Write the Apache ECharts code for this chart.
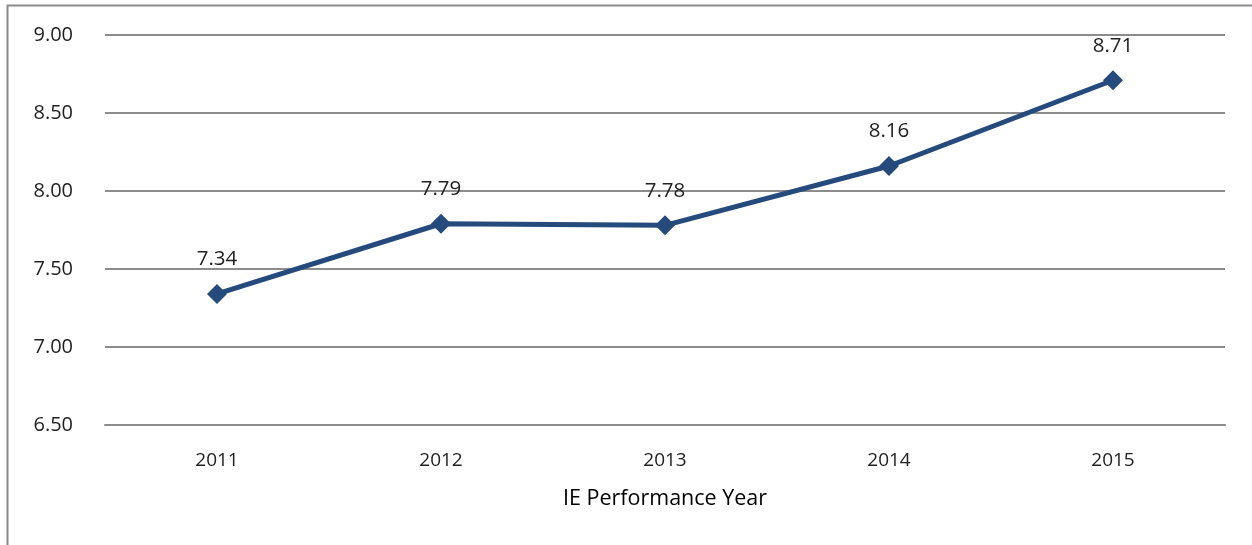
<!DOCTYPE html>
<html>
<head>
<meta charset="utf-8">
<script src="https://cdn.jsdelivr.net/npm/echarts@6/dist/echarts.min.js"></script>
<style>
html,body{margin:0;padding:0;background:#fff;}
#c{width:1252px;height:545px;}
</style>
</head>
<body>
<div id="c"></div>
<script>
var categories = ['2011', '2012', '2013', '2014', '2015'];
var values = [7.34, 7.79, 7.78, 8.16, 8.71];
var xAxisTitle = 'IE Performance Year';

var chart = echarts.init(document.getElementById('c'));
var font = '"Open Sans", "Noto Sans", sans-serif';
chart.setOption({
  animation: false,
  backgroundColor: '#fff',
  graphic: [{
    type: 'rect',
    shape: {x: 7.5, y: 5.5, width: 1400, height: 700},
    style: {fill: 'none', stroke: '#8a8a8a', lineWidth: 2},
    silent: true
  }],
  grid: {left: 105, right: 27, top: 35, bottom: 120},
  xAxis: {
    type: 'category',
    data: categories,
    boundaryGap: true,
    name: xAxisTitle,
    nameLocation: 'middle',
    nameGap: 63,
    nameTextStyle: {fontFamily: font, fontSize: 21.5, color: '#000'},
    axisLine: {show: true, lineStyle: {color: '#8c8c8c', width: 2}},
    axisTick: {show: false},
    axisLabel: {fontFamily: font, fontSize: 19, color: '#222', margin: 26}
  },
  yAxis: {
    type: 'value',
    min: 6.5,
    max: 9,
    interval: 0.5,
    axisLine: {show: false},
    axisTick: {show: false},
    splitLine: {lineStyle: {color: '#8c8c8c', width: 2}},
    axisLabel: {fontFamily: font, fontSize: 20, color: '#222', margin: 32,
      formatter: function (v) { return v.toFixed(2); }}
  },
  series: [{
    type: 'line',
    data: values,
    symbol: 'diamond',
    symbolSize: 20,
    lineStyle: {color: '#254a7c', width: 5},
    itemStyle: {color: '#254a7c'},
    label: {
      show: true,
      position: 'top',
      distance: 14,
      fontFamily: font,
      fontSize: 20.5,
      color: '#222',
      formatter: function (p) { return p.value.toFixed(2); }
    }
  }]
});
</script>
</body>
</html>
